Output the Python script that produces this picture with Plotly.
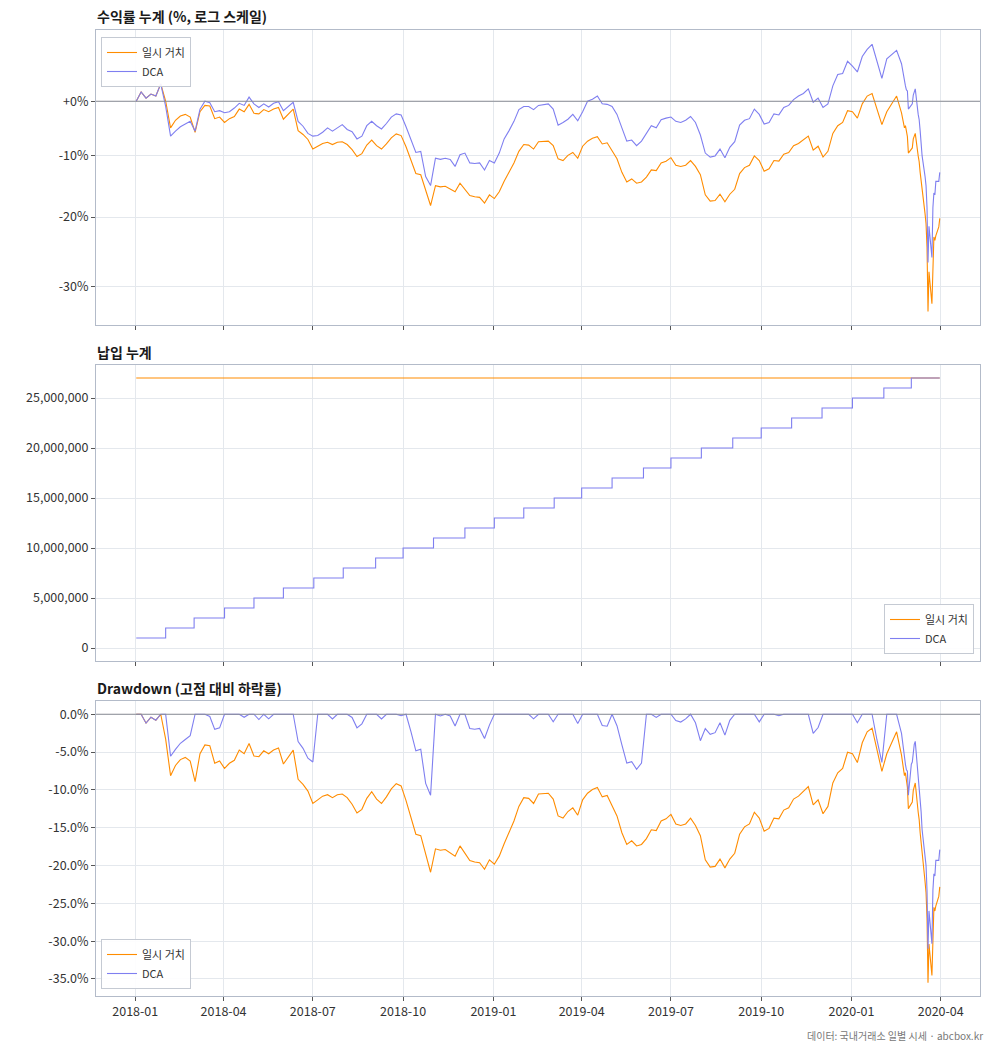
import pandas as pd
import numpy as np
import plotly.graph_objects as go

# ---------------- data ----------------
grid_dates = list(pd.date_range("2018-01-02", periods=157, freq="5D").strftime("%Y-%m-%d"))
crash_dates = ["2020-02-24", "2020-02-25", "2020-02-26", "2020-02-27", "2020-02-28",
               "2020-03-02", "2020-03-03", "2020-03-04", "2020-03-05", "2020-03-06",
               "2020-03-09", "2020-03-10", "2020-03-11", "2020-03-12", "2020-03-13",
               "2020-03-16", "2020-03-17", "2020-03-18", "2020-03-19", "2020-03-20",
               "2020-03-23", "2020-03-24", "2020-03-25", "2020-03-26", "2020-03-27",
               "2020-03-30", "2020-03-31"]
dates = grid_dates + crash_dates

# cumulative return of lump-sum (%)
lump_ret = [0.0, 1.8, 0.6, 1.4, 1.0, 3.4, 0.0, -5.0, -3.6, -2.8,
            -2.5, -3.0, -5.8, -2.0, -0.8, -0.9, -3.3, -3.0, -4.0, -3.3,
            -2.9, -1.5, -2.0, -0.6, -2.3, -2.4, -1.6, -2.0, -1.5, -1.2,
            -3.4, -2.5, -1.5, -5.5, -6.2, -7.1, -8.8, -8.3, -7.8, -7.6,
            -8.0, -7.6, -7.5, -8.0, -8.9, -10.1, -9.6, -8.1, -7.2, -8.2,
            -8.8, -7.9, -6.8, -6.1, -6.4, -8.4, -10.8, -13.0, -13.2, -15.7,
            -18.2, -15.0, -15.2, -15.1, -15.5, -16.0, -14.6, -15.6, -16.6, -16.8,
            -16.9, -17.8, -16.5, -17.1, -16.0, -14.3, -12.8, -11.2, -9.2, -8.0,
            -8.1, -8.8, -7.5, -7.4, -7.4, -8.2, -10.5, -10.8, -9.9, -9.4,
            -10.4, -8.3, -7.4, -6.9, -6.6, -7.9, -7.7, -9.1, -10.5, -12.8,
            -14.4, -13.9, -14.6, -14.4, -13.6, -12.4, -12.5, -11.2, -10.9, -10.3,
            -11.6, -11.8, -11.6, -10.8, -11.8, -13.2, -16.5, -17.5, -17.4, -16.4,
            -17.6, -16.4, -15.6, -13.0, -12.0, -11.6, -10.0, -10.8, -12.6, -12.2,
            -10.8, -10.9, -9.7, -9.4, -8.2, -7.8, -7.2, -6.5, -9.0, -8.3,
            -10.2, -9.2, -6.0, -4.6, -4.0, -1.8, -2.0, -3.2, -0.5, 1.0,
            1.5, -1.5, -4.4, -2.0, -0.4, 1.0, -2.2,
            # crash days
            -5.0, -4.6, -5.8, -6.6, -9.5, -8.8, -8.6, -7.0, -6.4, -6.0,
            -10.0, -11.0, -12.8, -14.0, -15.5, -19.5, -21.0, -24.5, -33.3, -28.0,
            -32.3, -25.5, -23.0, -23.5, -22.8, -21.5, -20.2]

# cumulative return of DCA (%)
dca_ret = [0.0, 1.8, 0.6, 1.4, 1.0, 3.4, -1.0, -6.5, -5.6, -4.8,
           -4.3, -3.8, -5.6, -1.5, 0.0, -0.3, -2.0, -1.8, -2.2, -2.0,
           -1.3, -0.4, -0.8, 0.8, -0.5, -1.2, -0.5, -1.1, -0.4, -0.1,
           -1.8, -1.0, -0.2, -3.8, -4.7, -6.0, -6.5, -6.4, -5.8, -5.0,
           -5.6, -5.0, -4.4, -5.3, -5.7, -7.0, -6.5, -4.6, -3.8, -4.6,
           -5.2, -4.2, -3.0, -2.4, -2.6, -4.8, -7.0, -9.4, -9.2, -13.5,
           -15.0, -10.4, -10.6, -10.4, -10.6, -11.8, -9.8, -9.5, -11.2, -11.3,
           -11.2, -12.4, -10.8, -11.2, -9.5, -7.0, -5.5, -3.8, -1.6, -1.0,
           -1.0, -1.6, -0.8, -0.6, -0.5, -1.5, -4.5, -4.0, -3.4, -2.5,
           -3.7, -2.0, 0.0, 0.4, 1.0, -0.5, -0.6, -1.0, -2.5, -5.0,
           -7.4, -7.2, -8.2, -7.4, -6.0, -4.6, -5.0, -3.5, -3.2, -3.0,
           -3.8, -4.0, -3.6, -2.9, -4.0, -6.3, -9.5, -10.2, -10.0, -8.8,
           -10.3, -8.5, -7.5, -4.5, -3.6, -3.3, -1.5, -2.5, -4.3, -4.0,
           -2.4, -2.6, -1.2, -0.8, 0.3, 1.0, 1.5, 2.4, -0.2, 0.6,
           -1.2, -0.5, 3.0, 5.3, 5.5, 8.0, 7.0, 5.8, 9.0, 10.5,
           11.6, 7.8, 4.5, 8.5, 9.5, 10.3, 7.5,
           # crash days
           3.5, 3.0, 2.2, 2.0, -1.5, -0.8, -0.5, 1.2, 2.0, 2.4,
           -2.5, -3.5, -5.5, -7.5, -10.0, -13.5, -15.0, -18.5, -26.7, -21.4,
           -26.0, -18.5, -16.2, -16.5, -14.3, -14.3, -12.8]

# monthly DCA contributions (cumulative, KRW)
contrib_dates = ["2018-01-02", "2018-02-01", "2018-03-02", "2018-04-02", "2018-05-02",
                 "2018-06-01", "2018-07-02", "2018-08-01", "2018-09-03", "2018-10-01",
                 "2018-11-01", "2018-12-03", "2019-01-02", "2019-02-01", "2019-03-04",
                 "2019-04-01", "2019-05-02", "2019-06-03", "2019-07-01", "2019-08-01",
                 "2019-09-02", "2019-10-01", "2019-11-01", "2019-12-02", "2020-01-02",
                 "2020-02-03", "2020-03-02"]
dca_cum = [1000000, 2000000, 3000000, 4000000, 5000000, 6000000, 7000000, 8000000, 9000000,
           10000000, 11000000, 12000000, 13000000, 14000000, 15000000, 16000000, 17000000,
           18000000, 19000000, 20000000, 21000000, 22000000, 23000000, 24000000, 25000000,
           26000000, 27000000]
lump_total = 27000000

# tick labels
x_tickvals = ["2018-01-01", "2018-04-01", "2018-07-01", "2018-10-01", "2019-01-01",
              "2019-04-01", "2019-07-01", "2019-10-01", "2020-01-01", "2020-04-01"]
x_ticktext = ["2018-01", "2018-04", "2018-07", "2018-10", "2019-01",
              "2019-04", "2019-07", "2019-10", "2020-01", "2020-04"]
ret_tickvals = [1.0, 0.9, 0.8, 0.7]
ret_ticktext = ["+0%", "-10%", "-20%", "-30%"]
con_tickvals = [0, 5000000, 10000000, 15000000, 20000000, 25000000]
con_ticktext = ["0", "5,000,000", "10,000,000", "15,000,000", "20,000,000", "25,000,000"]
dd_tickvals = [0, -5, -10, -15, -20, -25, -30, -35]
dd_ticktext = ["0.0%", "-5.0%", "-10.0%", "-15.0%", "-20.0%", "-25.0%", "-30.0%", "-35.0%"]

assert len(dates) == len(lump_ret) == len(dca_ret)

# ---------------- derived series ----------------
d_idx = pd.to_datetime(dates)
lump_growth = 1 + np.array(lump_ret) / 100
dca_growth = 1 + np.array(dca_ret) / 100
lump_dd = (lump_growth / np.maximum.accumulate(lump_growth) - 1) * 100
c_idx = pd.to_datetime(contrib_dates)
contrib_at = np.array([dca_cum[np.searchsorted(c_idx, d, side="right") - 1] for d in d_idx])
dca_value = contrib_at * dca_growth
dca_dd = (dca_value / np.maximum.accumulate(dca_value) - 1) * 100

ORANGE = "#ff8c00"
BLUE = "#7f7ff0"
W, H = 994, 1049
FONT = "Noto Sans CJK KR, DejaVu Sans, sans-serif"

fig = go.Figure()

def px_dom_y(top, bottom):
    return [1 - bottom / H, 1 - top / H]

xdom = [96 / W, 980 / W]

# top panel
fig.add_trace(go.Scatter(x=dates, y=lump_growth, mode="lines", name="일시 거치",
                         line=dict(color=ORANGE, width=1.1), xaxis="x", yaxis="y", legend="legend"))
fig.add_trace(go.Scatter(x=dates, y=dca_growth, mode="lines", name="DCA",
                         line=dict(color=BLUE, width=1.1), xaxis="x", yaxis="y", legend="legend"))
# middle panel
fig.add_trace(go.Scatter(x=[dates[0], dates[-1]], y=[lump_total, lump_total], mode="lines",
                         name="일시 거치", line=dict(color=ORANGE, width=1.1),
                         xaxis="x2", yaxis="y2", legend="legend2"))
fig.add_trace(go.Scatter(x=contrib_dates + [dates[-1]], y=dca_cum + [dca_cum[-1]], mode="lines",
                         name="DCA", line=dict(color=BLUE, width=1.1, shape="hv"),
                         xaxis="x2", yaxis="y2", legend="legend2"))
# bottom panel
fig.add_trace(go.Scatter(x=dates, y=lump_dd, mode="lines", name="일시 거치",
                         line=dict(color=ORANGE, width=1.1), xaxis="x3", yaxis="y3", legend="legend3"))
fig.add_trace(go.Scatter(x=dates, y=dca_dd, mode="lines", name="DCA",
                         line=dict(color=BLUE, width=1.1), xaxis="x3", yaxis="y3", legend="legend3"))

axis_common = dict(showline=True, mirror=True, linecolor="#b3bbc9", linewidth=1,
                   showgrid=True, gridcolor="#e4e8ed", gridwidth=1, zeroline=False,
                   ticks="outside", ticklen=4, tickcolor="#555", tickwidth=1,
                   tickfont=dict(size=12.5, color="#333", family=FONT))
xr = ["2017-11-22", "2020-05-11"]

def xaxis(anchor, labels):
    d = dict(axis_common)
    d.update(domain=xdom, anchor=anchor, range=xr, type="date",
             tickmode="array", tickvals=x_tickvals, ticktext=x_ticktext,
             showticklabels=labels)
    return d

def yaxis(anchor, dom, **kw):
    d = dict(axis_common)
    d.update(domain=dom, anchor=anchor, tickmode="array", **kw)
    return d

legend_common = dict(bgcolor="rgba(255,255,255,0.9)", bordercolor="#c5cad3", borderwidth=1,
                     font=dict(size=11, color="#333", family=FONT), tracegroupgap=0,
                     itemwidth=30)

fig.update_layout(
    width=W, height=H, margin=dict(l=0, r=0, t=0, b=0),
    paper_bgcolor="white", plot_bgcolor="white",
    font=dict(family=FONT, size=12, color="#333"),
    xaxis=xaxis("y", False),
    xaxis2=xaxis("y2", False),
    xaxis3=xaxis("y3", True),
    yaxis=yaxis("x", px_dom_y(30, 325), type="log", range=[-0.1872, 0.0596],
                tickvals=ret_tickvals, ticktext=ret_ticktext),
    yaxis2=yaxis("x2", px_dom_y(365, 661), range=[-1300000, 28300000],
                 tickvals=con_tickvals, ticktext=con_ticktext),
    yaxis3=yaxis("x3", px_dom_y(701, 996), range=[-37.25, 1.75],
                 tickvals=dd_tickvals, ticktext=dd_ticktext),
    legend=dict(legend_common, x=101 / W, y=1 - 37 / H, xanchor="left", yanchor="top"),
    legend2=dict(legend_common, x=974 / W, y=1 - 654 / H, xanchor="right", yanchor="bottom"),
    legend3=dict(legend_common, x=101 / W, y=1 - 989 / H, xanchor="left", yanchor="bottom"),
    showlegend=True,
)

# zero reference lines
fig.add_shape(type="line", xref="x domain", yref="y", x0=0, x1=1, y0=1.0, y1=1.0,
              line=dict(color="#8a8d93", width=1.2), layer="above")
fig.add_shape(type="line", xref="x3 domain", yref="y3", x0=0, x1=1, y0=0, y1=0,
              line=dict(color="#8a8d93", width=1.2), layer="above")

titles = [("수익률 누계 (%, 로그 스케일)", 16), ("납입 누계", 352), ("Drawdown (고점 대비 하락률)", 688)]
for txt, ypx in titles:
    fig.add_annotation(text="<b>" + txt + "</b>", xref="paper", yref="paper",
                       x=95 / W, y=1 - ypx / H, xanchor="left", yanchor="middle",
                       showarrow=False, font=dict(size=14, color="#1a1a1a", family=FONT))

fig.add_annotation(text="데이터: 국내거래소 일별 시세 · abcbox.kr", xref="paper", yref="paper",
                   x=985 / W, y=1 - 1035 / H, xanchor="right", yanchor="middle",
                   showarrow=False, font=dict(size=10, color="#777", family=FONT))

fig.write_html("out.html")
